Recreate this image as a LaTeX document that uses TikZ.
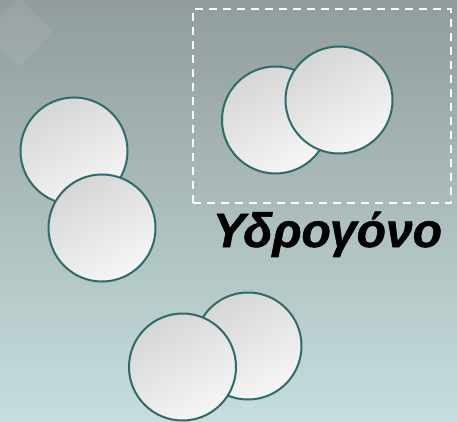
\documentclass[tikz,border=0pt]{standalone}
\usepackage{fontspec}
\setmainfont{Liberation Sans}
\newfontfamily\lblfont{Liberation Sans Bold Italic}[FakeBold=1.2]
\begin{document}
\begin{tikzpicture}[x=1pt,y=-1pt,
  ball/.style={circle, draw=ballline, line width=2pt, minimum size=107pt, inner sep=0pt,
    top color=ballA, bottom color=ballB, shading angle=30},
  box/.style={draw=white, line width=2pt, dash pattern=on 8pt off 6pt},
  label/.style={font=\lblfont\fontsize{48}{48}\selectfont, text=black, inner sep=0pt}]
\definecolor{bgtop}{HTML}{929C9C}
\definecolor{bgbot}{HTML}{C6DEDE}
\definecolor{ballline}{HTML}{2E6B6B}
\definecolor{ballA}{HTML}{D6D6D6}
\definecolor{ballB}{HTML}{F6F6F6}
\useasboundingbox (0,0) rectangle (457,422);
\fill[top color=bgtop, bottom color=bgbot] (0,0) rectangle (457,422);
\fill[white, opacity=0.07] (19,-2) -- (53,32) -- (19,66) -- (-15,32) -- cycle;
% left pair
\node[ball] (a1) at (74,151) {};
\node[ball] (a2) at (102,228) {};
% top-right pair
\node[ball] (b1) at (275.5,120) {};
\node[ball] (b2) at (339,100) {};
\node[box, minimum width=258pt, minimum height=194pt, inner sep=0pt] (frame) at (322,106) {};
\node[label, anchor=base] (h) at (327.5,247) {Υδρογόνο};
% bottom pair
\node[ball] (c2) at (248,346) {};
\node[ball] (c1) at (182.5,367) {};
\end{tikzpicture}
\end{document}
